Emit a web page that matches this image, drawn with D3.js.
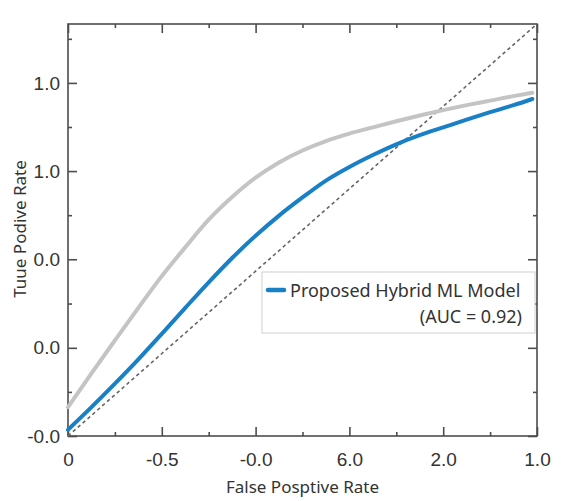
<!DOCTYPE html>
<html lang="en">
<head>
    <meta charset="UTF-8">
    <title>roc-curve</title>
    <style>
        body {
            margin: 0;
            background: #fff;
            font-family: "Noto Sans", "Open Sans", sans-serif;
            color: #333;
        }
    </style>
    <script src="https://d3js.org/d3.v7.min.js"></script>
</head>
<body>

<script>

    // tick positions and their (odd) labels
    let xTickValues = [0, 0.2, 0.4, 0.6, 0.8, 1.0];
    let xTickLabels = ["0", "-0.5", "-0.0", "6.0", "2.0", "1.0"];
    let yTickValues = [0, 0.214, 0.429, 0.643, 0.857];
    let yTickLabels = ["-0.0", "0.0", "0.0", "1.0", "1.0"];

    // curves
    let fpr = [0, 0.05, 0.1, 0.15, 0.2, 0.25, 0.3, 0.35, 0.4, 0.45, 0.5, 0.55, 0.6, 0.65, 0.7, 0.75, 0.8, 0.85, 0.9, 0.95, 0.99];
    let tprHybrid = [0.015, 0.070, 0.127, 0.186, 0.248, 0.311, 0.373, 0.432, 0.486, 0.535, 0.579, 0.620, 0.653, 0.682, 0.708, 0.730, 0.749, 0.768, 0.786, 0.803, 0.818];
    let tprBaseline = [0.070, 0.152, 0.232, 0.311, 0.388, 0.458, 0.525, 0.580, 0.627, 0.664, 0.693, 0.716, 0.734, 0.749, 0.764, 0.778, 0.791, 0.803, 0.814, 0.825, 0.833];

    let width = 563;
    let height = 501;
    let margin = {top: 24, right: 26, bottom: 65, left: 68};

    let svg = d3.select("body").append("svg")
        .attr("width", width)
        .attr("height", height);

    let x = d3.scaleLinear().domain([0, 1]).range([margin.left, width - margin.right]);
    let y = d3.scaleLinear().domain([0, 1]).range([height - margin.bottom, margin.top]);

    let frameColor = "#4d4d4d";

    // minor ticks sit halfway between the major ones
    let xMinor = d3.range(xTickValues.length - 1).map(i => (xTickValues[i] + xTickValues[i + 1]) / 2);
    let yMinor = d3.range(yTickValues.length - 1).map(i => (yTickValues[i] + yTickValues[i + 1]) / 2);
    yMinor.push(yTickValues[yTickValues.length - 1] + (yTickValues[1] - yTickValues[0]) / 2);

    // bottom axis (ticks point inward)
    let gx = svg.append("g")
        .attr("transform", "translate(0," + y(0) + ")")
        .call(d3.axisBottom(x)
            .tickValues(xTickValues)
            .tickSize(-9)
            .tickPadding(17)
            .tickFormat((d, i) => xTickLabels[i]));
    gx.select(".domain").remove();
    gx.selectAll("text").style("font-size", "19px").attr("fill", "#333");

    svg.append("g")
        .attr("transform", "translate(0," + y(0) + ")")
        .call(d3.axisBottom(x).tickValues(xMinor).tickSize(-4).tickFormat(""))
        .select(".domain").remove();

    // top ticks
    svg.append("g")
        .attr("transform", "translate(0," + y(1) + ")")
        .call(d3.axisTop(x).tickValues(xTickValues).tickSize(-9).tickFormat(""))
        .select(".domain").remove();
    svg.append("g")
        .attr("transform", "translate(0," + y(1) + ")")
        .call(d3.axisTop(x).tickValues(xMinor).tickSize(-4).tickFormat(""))
        .select(".domain").remove();

    // left axis
    let gy = svg.append("g")
        .attr("transform", "translate(" + x(0) + ",0)")
        .call(d3.axisLeft(y)
            .tickValues(yTickValues)
            .tickSize(-9)
            .tickPadding(8)
            .tickFormat((d, i) => yTickLabels[i]));
    gy.select(".domain").remove();
    gy.selectAll("text").style("font-size", "19px").attr("fill", "#333");

    svg.append("g")
        .attr("transform", "translate(" + x(0) + ",0)")
        .call(d3.axisLeft(y).tickValues(yMinor).tickSize(-4).tickFormat(""))
        .select(".domain").remove();

    // right ticks
    svg.append("g")
        .attr("transform", "translate(" + x(1) + ",0)")
        .call(d3.axisRight(y).tickValues(yTickValues).tickSize(-9).tickFormat(""))
        .select(".domain").remove();
    svg.append("g")
        .attr("transform", "translate(" + x(1) + ",0)")
        .call(d3.axisRight(y).tickValues(yMinor).tickSize(-4).tickFormat(""))
        .select(".domain").remove();

    svg.selectAll(".tick line")
        .attr("stroke", frameColor)
        .attr("stroke-width", 1.6);

    // frame
    svg.append("rect")
        .attr("x", x(0))
        .attr("y", y(1))
        .attr("width", x(1) - x(0))
        .attr("height", y(0) - y(1))
        .attr("fill", "none")
        .attr("stroke", frameColor)
        .attr("stroke-width", 1.6);

    // chance diagonal
    svg.append("line")
        .attr("x1", x(0))
        .attr("y1", y(0))
        .attr("x2", x(1))
        .attr("y2", y(1))
        .attr("stroke", "#666")
        .attr("stroke-width", 1.6)
        .attr("stroke-dasharray", "3.5,3");

    let line = d3.line()
        .x(d => x(d[0]))
        .y(d => y(d[1]))
        .curve(d3.curveMonotoneX);

    svg.append("path")
        .datum(d3.zip(fpr, tprBaseline))
        .attr("d", line)
        .attr("fill", "none")
        .attr("stroke", "#c4c4c4")
        .attr("stroke-width", 4)
        .attr("stroke-linecap", "round");

    svg.append("path")
        .datum(d3.zip(fpr, tprHybrid))
        .attr("d", line)
        .attr("fill", "none")
        .attr("stroke", "#1a80c6")
        .attr("stroke-width", 4)
        .attr("stroke-linecap", "round");

    // legend
    let legend = svg.append("g").attr("transform", "translate(262,272)");
    legend.append("rect")
        .attr("width", 273)
        .attr("height", 61)
        .attr("fill", "#fff")
        .attr("stroke", "#cfcfcf")
        .attr("stroke-width", 1);
    legend.append("line")
        .attr("x1", 6).attr("x2", 22)
        .attr("y1", 18).attr("y2", 18)
        .attr("stroke", "#1a80c6")
        .attr("stroke-width", 4.5)
        .attr("stroke-linecap", "round");
    legend.append("text")
        .attr("x", 28)
        .attr("y", 25)
        .style("font-size", "18px")
        .attr("fill", "#333")
        .text("Proposed Hybrid ML Model");
    legend.append("text")
        .attr("x", 260)
        .attr("y", 51)
        .attr("text-anchor", "end")
        .style("font-size", "18px")
        .attr("fill", "#333")
        .text("(AUC = 0.92)");

    // axis titles
    svg.append("text")
        .attr("x", (x(0) + x(1)) / 2)
        .attr("y", 493)
        .attr("text-anchor", "middle")
        .style("font-size", "17px")
        .attr("fill", "#333")
        .text("False Posptive Rate");

    svg.append("text")
        .attr("transform", "translate(26," + 229 + ") rotate(-90)")
        .attr("text-anchor", "middle")
        .style("font-size", "17px")
        .attr("fill", "#333")
        .text("Tuue Podive Rate");

</script>

</body>
</html>
